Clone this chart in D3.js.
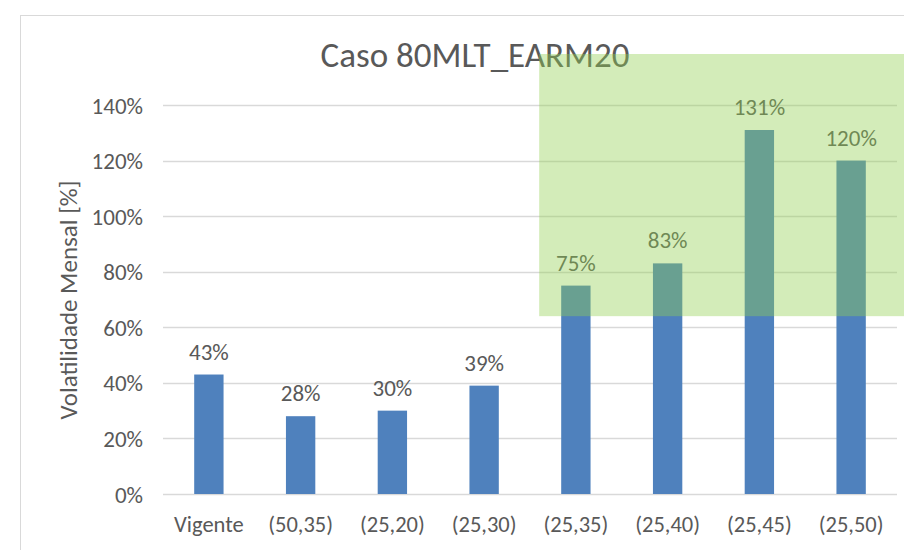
<!DOCTYPE html>
<meta charset="utf-8">
<style>
body { margin: 0; background: #fff; }
text { font-family: Calibri, Carlito, "Liberation Sans Narrow", "Liberation Sans", sans-serif; fill: #595959; }
</style>
<body>
<svg class="chart js-chart"></svg>
<script src="https://cdn.jsdelivr.net/npm/d3@7"></script>
<script type="text/javascript">
"use strict";

// data
var categories = ['Vigente', '(50,35)', '(25,20)', '(25,30)', '(25,35)', '(25,40)', '(25,45)', '(25,50)'];
var volatility = [43, 28, 30, 39, 75, 83, 131, 120];
var yTicks = [0, 20, 40, 60, 80, 100, 120, 140];
var highlightFrom = '(25,35)';   // green box starts left of this bar
var highlightBottom = 64;        // box bottom, in % units

var width = 904, height = 550;

var svg = d3.select('.js-chart')
  .attr('width', width)
  .attr('height', height);

// outer chart frame (clipped by window on right/bottom)
svg.append('rect')
  .attr('x', 20.5).attr('y', 15.5)
  .attr('width', 900).attr('height', 560)
  .style('fill', 'none')
  .style('stroke', '#d9d9d9');

var x = d3.scaleBand()
  .domain(categories)
  .range([163, 897])
  .paddingInner(0.68)
  .paddingOuter(0.34);

var y = d3.scaleLinear()
  .domain([0, 140])
  .range([494, 105]);

// gridlines
svg.append('g').selectAll('line')
  .data(yTicks)
  .enter().append('line')
    .attr('x1', 163).attr('x2', 897)
    .attr('y1', function (d) { return Math.round(y(d)) + 0.5; })
    .attr('y2', function (d) { return Math.round(y(d)) + 0.5; })
    .style('stroke', '#d9d9d9')
    .style('stroke-width', 1.5);

// y axis labels
var yAxis = d3.axisLeft(y)
  .tickValues(yTicks)
  .tickSize(0)
  .tickPadding(0)
  .tickFormat(function (d) { return d + '%'; });

svg.append('g')
  .attr('transform', 'translate(143,0)')
  .call(yAxis)
  .call(function (g) { g.select('.domain').remove(); })
  .selectAll('text')
    .style('font-size', '23px')
    .attr('dy', '0.35em');

// x axis labels
var xAxis = d3.axisBottom(x).tickSize(0).tickPadding(0);
svg.append('g')
  .attr('transform', 'translate(0,532)')
  .call(xAxis)
  .call(function (g) { g.select('.domain').remove(); })
  .selectAll('text')
    .attr('dy', 0)
    .style('font-size', '22.5px');

// bars
svg.append('g').selectAll('rect')
  .data(volatility)
  .enter().append('rect')
    .attr('x', function (d, i) { return x(categories[i]); })
    .attr('y', function (d) { return y(d); })
    .attr('width', x.bandwidth())
    .attr('height', function (d) { return y(0) - y(d); })
    .style('fill', '#4f81bd');

// value labels
svg.append('g').selectAll('text')
  .data(volatility)
  .enter().append('text')
    .attr('x', function (d, i) { return x(categories[i]) + x.bandwidth() / 2; })
    .attr('y', function (d) { return y(d) - 15; })
    .attr('text-anchor', 'middle')
    .style('font-size', '23px')
    .text(function (d) { return d + '%'; });

// y title
svg.append('text')
  .attr('transform', 'translate(77,300) rotate(-90)')
  .attr('text-anchor', 'middle')
  .style('font-size', '25px')
  .text('Volatilidade Mensal [%]');

// title
svg.append('text')
  .attr('x', 475)
  .attr('y', 67)
  .attr('text-anchor', 'middle')
  .style('font-size', '35px')
  .text('Caso 80MLT_EARM20');

// green highlight box drawn on top
var boxLeft = x(highlightFrom) - x.step() * 0.24;
svg.append('rect')
  .attr('x', boxLeft)
  .attr('y', 54)
  .attr('width', width - boxLeft)
  .attr('height', y(highlightBottom) - 54)
  .style('fill', '#92d050')
  .style('fill-opacity', 0.4);
</script>
</body>
